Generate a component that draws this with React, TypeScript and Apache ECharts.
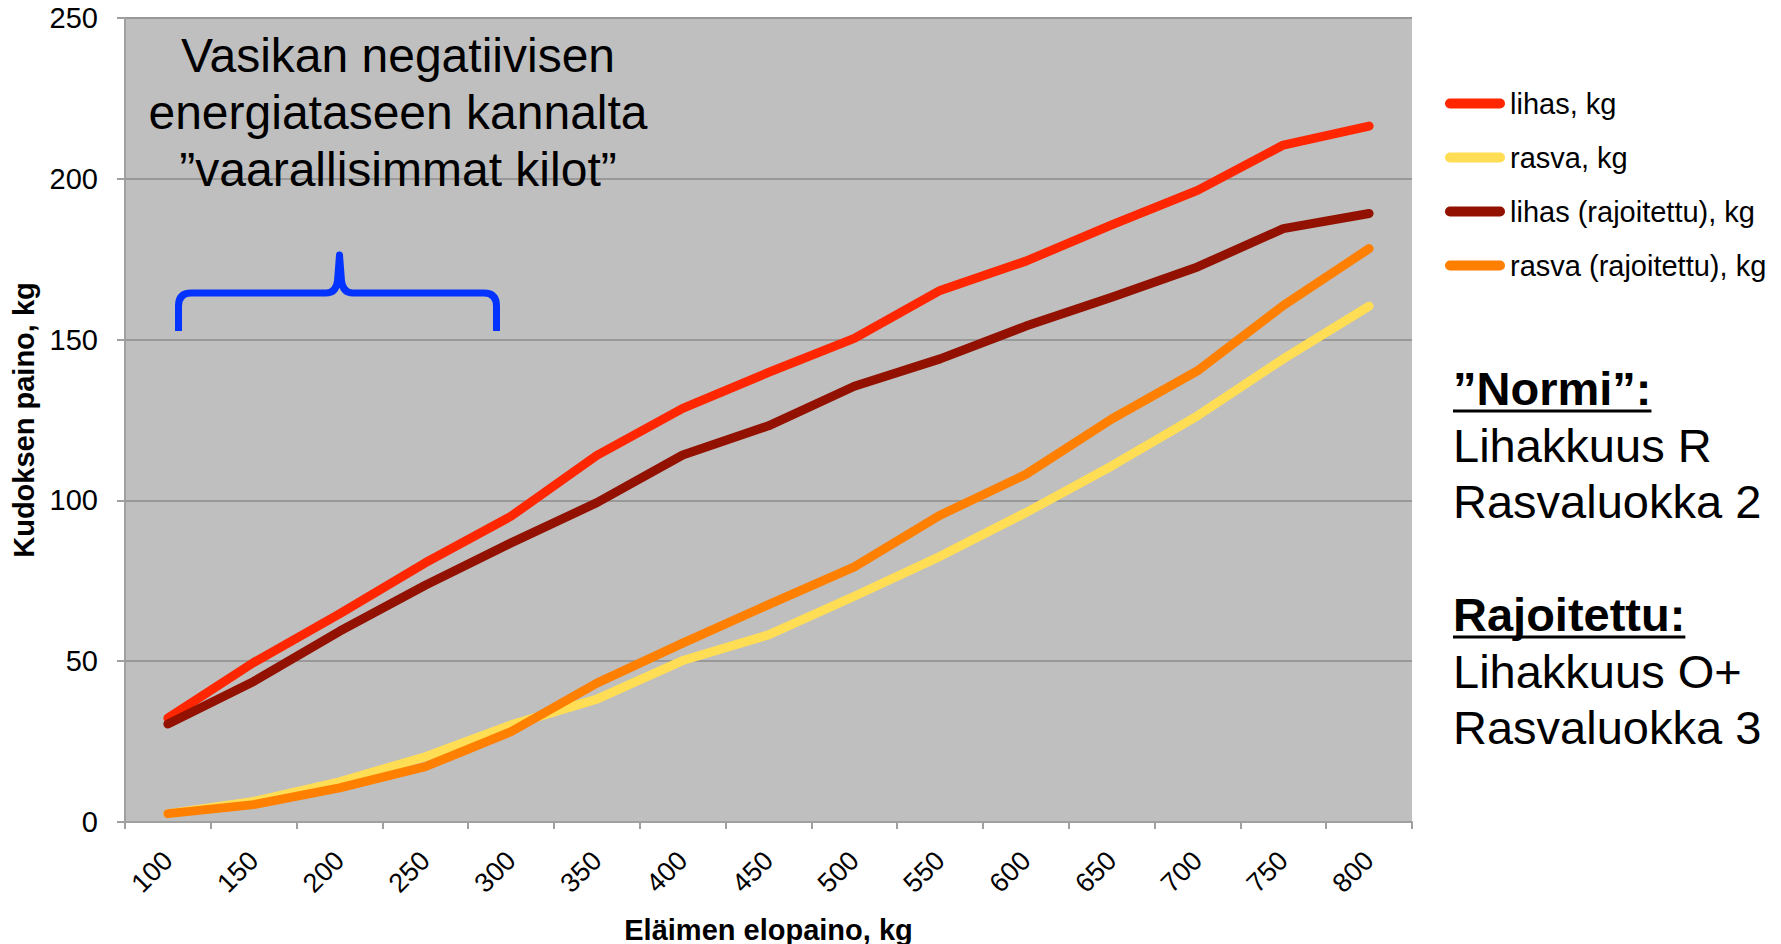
import React, { useEffect, useRef } from 'react';
import * as echarts from 'echarts';

const categories = ['100', '150', '200', '250', '300', '350', '400', '450', '500', '550', '600', '650', '700', '750', '800'];
const lihas = [32.3, 49.6, 64.7, 80.6, 95.1, 114.0, 128.6, 139.8, 150.4, 165.3, 174.4, 185.7, 196.4, 210.5, 216.4];
const rasva = [2.6, 6.4, 12.5, 20.3, 30.2, 38.2, 50.2, 58.2, 70.2, 82.6, 96.2, 110.7, 126.3, 144.0, 160.4];
const lihasRaj = [30.5, 43.7, 59.3, 73.6, 86.8, 99.3, 114.1, 123.2, 135.5, 144.0, 154.2, 163.2, 172.6, 184.5, 189.2];
const rasvaRaj = [2.6, 5.4, 10.6, 17.2, 28.1, 43.2, 55.6, 67.6, 79.3, 95.4, 108.1, 125.3, 140.3, 160.6, 178.3];

const seriesNames = ['lihas, kg', 'rasva, kg', 'lihas (rajoitettu), kg', 'rasva (rajoitettu), kg'];
const seriesData = [lihas, rasva, lihasRaj, rasvaRaj];
const seriesColors = ['#ff2600', '#ffde55', '#921100', '#ff7f00'];

const yMin = 0;
const yMax = 250;
const yInterval = 50;

const xTitle = 'Eläimen elopaino, kg';
const yTitle = 'Kudoksen paino, kg';

const annotationLines = ['Vasikan negatiivisen', 'energiataseen kannalta', '”vaarallisimmat kilot”'];
const noteLines = [
  { text: '”Normi”:', bold: true },
  { text: 'Lihakkuus R', bold: false },
  { text: 'Rasvaluokka 2', bold: false },
  { text: 'Rajoitettu:', bold: true },
  { text: 'Lihakkuus O+', bold: false },
  { text: 'Rasvaluokka 3', bold: false },
];

const FONT = '"Liberation Sans", Arial, Helvetica, sans-serif';

const BRACE_D =
  'M178.5,331 L178.5,306 Q178.5,293 191,293 L326,293 Q336,293 337.5,281 L339.5,255 L341.5,281 Q343,293 353,293 L484,293 Q496.5,293 496.5,306 L496.5,331';

let braceRegistered = false;

function measure(text: string, font: string): number {
  const c = document.createElement('canvas');
  const ctx = c.getContext('2d');
  if (!ctx) return text.length * 25;
  ctx.font = font;
  return ctx.measureText(text).width;
}

export default function App() {
  const ref = useRef<HTMLDivElement>(null);

  useEffect(() => {
    if (!ref.current) return;
    if (!braceRegistered) {
      echarts.graphic.registerShape('brace', echarts.graphic.extendPath(BRACE_D, {}));
      braceRegistered = true;
    }
    const chart = echarts.init(ref.current, undefined, { renderer: 'svg' });

    const noteBaselines = [405, 461.5, 518, 631, 687.5, 744];
    const noteX = 1453;
    const noteSize = 47;
    const graphics: any[] = [];
    annotationLines.forEach((t, i) => {
      graphics.push({
        type: 'text',
        x: 398,
        y: 55.7 + i * 56.7,
        style: {
          text: t,
          font: `48px ${FONT}`,
          fill: '#000',
          align: 'center',
          verticalAlign: 'middle',
        },
        z: 10,
      });
    });
    graphics.push({
      type: 'brace',
      x: 0,
      y: 0,
      style: {
        fill: 'none',
        stroke: '#0433ff',
        lineWidth: 7,
        lineCap: 'butt',
        lineJoin: 'round',
      },
      z: 10,
    });
    noteLines.forEach((n, i) => {
      const font = `${n.bold ? 'bold ' : ''}${noteSize}px ${FONT}`;
      graphics.push({
        type: 'text',
        x: noteX,
        y: noteBaselines[i] - 16.5,
        style: {
          text: n.text,
          font,
          fill: '#000',
          align: 'left',
          verticalAlign: 'middle',
        },
      });
      if (n.bold) {
        const w = measure(n.text, font);
        graphics.push({
          type: 'line',
          shape: { x1: noteX, y1: noteBaselines[i] + 6, x2: noteX + w, y2: noteBaselines[i] + 6 },
          style: { stroke: '#000', lineWidth: 3 },
        });
      }
    });

    chart.setOption({
      animation: false,
      textStyle: { fontFamily: FONT },
      grid: {
        left: 125,
        right: 369,
        top: 18,
        bottom: 122,
        show: true,
        backgroundColor: '#bfbfbf',
        borderWidth: 0,
        containLabel: false,
        outerBoundsMode: 'none',
      },
      legend: {
        data: seriesNames,
        orient: 'vertical',
        left: 1440,
        top: 84,
        itemWidth: 60,
        itemHeight: 10,
        itemGap: 25,
        itemTextGap: 1,
        icon: 'path://M5,0H55A5,5,0,0,1,55,10H5A5,5,0,0,1,5,0Z',
        textStyle: { fontSize: 29, lineHeight: 29, color: '#000', fontFamily: FONT },
      },
      xAxis: {
        type: 'category',
        data: categories,
        boundaryGap: true,
        name: xTitle,
        nameLocation: 'middle',
        nameGap: 93,
        nameTextStyle: { fontSize: 29, fontWeight: 'bold', color: '#000', fontFamily: FONT },
        axisLine: { show: true, lineStyle: { color: '#a0a0a0', width: 2 } },
        axisTick: { show: true, length: 7, lineStyle: { color: '#a0a0a0', width: 2 } },
        axisLabel: { rotate: 45, fontSize: 27, color: '#000', margin: 34, interval: 0, fontFamily: FONT },
        splitLine: { show: false },
      },
      yAxis: {
        type: 'value',
        min: yMin,
        max: yMax,
        interval: yInterval,
        name: yTitle,
        nameLocation: 'middle',
        nameGap: 82,
        nameTextStyle: { fontSize: 29, fontWeight: 'bold', color: '#000', fontFamily: FONT },
        axisLine: { show: true, lineStyle: { color: '#a0a0a0', width: 2 } },
        axisTick: { show: true, length: 8, lineStyle: { color: '#a0a0a0', width: 2 } },
        axisLabel: { fontSize: 29, color: '#000', margin: 27, fontFamily: FONT },
        splitLine: { show: true, lineStyle: { color: '#999999', width: 2 } },
      },
      series: seriesNames.map((name, i) => ({
        name,
        type: 'line',
        data: seriesData[i],
        showSymbol: false,
        symbol: 'none',
        color: seriesColors[i],
        itemStyle: { color: seriesColors[i] },
        lineStyle: { color: seriesColors[i], width: 9, cap: 'round', join: 'round' },
        z: 3 + i,
      })),
      graphic: graphics,
    });

    return () => {
      chart.dispose();
    };
  }, []);

  return (
    <div
      ref={ref}
      style={{ position: 'absolute', left: 0, top: 0, width: 1781, height: 944, background: '#fff' }}
    />
  );
}
